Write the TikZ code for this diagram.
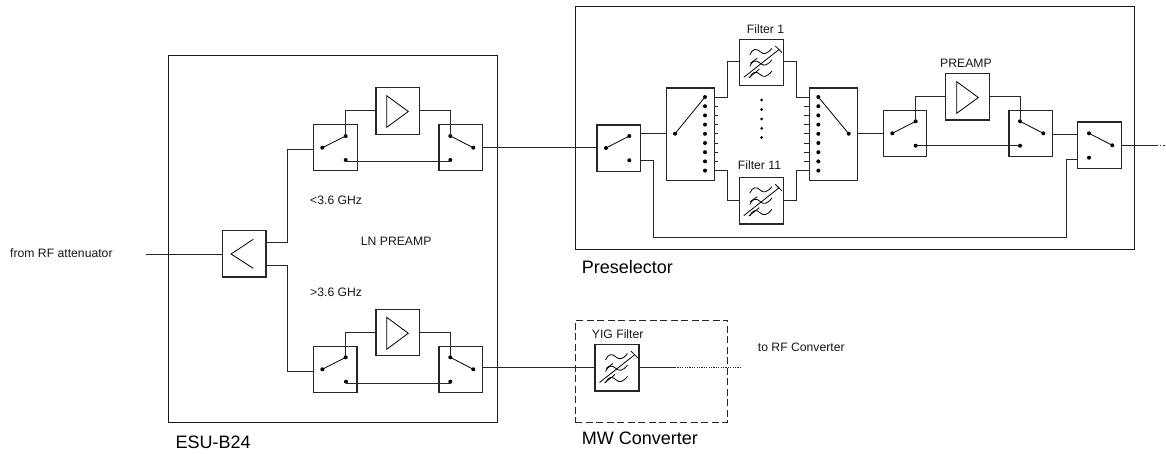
\documentclass[tikz,border=0pt]{standalone}
\usepackage{fontspec}
\setmainfont{Liberation Sans}
\usetikzlibrary{calc}
\tikzset{
  blockbox/.style={draw=black!85,line width=1.05pt,inner sep=0pt,outer sep=0pt},
  frame/.style={draw=black!90,line width=1pt},
  wire/.style={draw=black!85,line width=1pt},
  sym/.style={draw=black,line width=0.8pt},
  dotmark/.style={circle,fill=black,inner sep=0pt,minimum size=4pt,outer sep=0pt},
  small/.style={anchor=base west,inner sep=0pt,font=\fontsize{12.2}{14}\selectfont,text=black!90},
  big/.style={anchor=base west,inner sep=0pt,font=\fontsize{18}{20}\selectfont,text=black},
}
\newcommand{\blk}[5]{%
  \pgfmathsetmacro\cxx{(#2+#4)/2}\pgfmathsetmacro\cyy{(#3+#5)/2}%
  \pgfmathsetmacro\www{#4-#2}\pgfmathsetmacro\hhh{#5-#3}%
  \node[blockbox,minimum width=\www pt,minimum height=\hhh pt] (#1) at (\cxx,\cyy) {};}
% name, box x1 y1 x2 y2, pivot, contact 1, contact 2
\newcommand{\sw}[9]{%
  \blk{#1}{#2}{#3}{#4}{#5}%
  \node[dotmark] (#1-a) at (#6) {};
  \node[dotmark] (#1-b) at (#7) {};
  \node[dotmark] (#1-c) at (#8) {};
  \draw[sym] (#1-a.center) -- (#1-#9.center);}
\newcommand{\ampsym}[3]{% triangle from x,y (upper left corner)
  \draw[sym] (#1,#2) -- (#1+21.6,#2+#3/2) -- (#1,#2+#3) -- cycle;}
\newcommand{\filt}[2]{%
  \begin{scope}[shift={(#1,#2)}]
    \draw[sym] (4.5,38) -- (40,10);
    \draw[sym] (36,6.7) -- (42.7,13.3);
    \draw[sym] (9.5,38.5) -- (20,30);
    \draw[sym] (11,24) -- (18,19);
    \foreach \yy in {15.5,27,38.3}{
      \draw[sym] (10.5,\yy) .. controls (13,\yy-6) and (17,\yy-7) .. (21,\yy-3)
        .. controls (24,\yy) and (28,\yy-0.5) .. (32.5,\yy-6.5);
    }
  \end{scope}}
\begin{document}
\begin{tikzpicture}[x=1pt,y=-1pt]
\useasboundingbox[fill=white] (0,0) rectangle (1166,453);

% enclosures
\node[frame,inner sep=0pt,outer sep=0pt,minimum width=329.4pt,minimum height=367.7pt] (esu) at (333,238.85) {};
\node[frame,inner sep=0pt,outer sep=0pt,minimum width=558.6pt,minimum height=242.3pt] (presel) at (855,127.85) {};
\node[draw=black!85,line width=1pt,dash pattern=on 7pt off 3.5pt,inner sep=0pt,outer sep=0pt,minimum width=152.4pt,minimum height=102pt] (mw) at (651.5,371) {};

% LN preamp splitter
\blk{lna}{222.3}{230.7}{266}{277}
\draw[sym] (253.3,239.3) -- (231,254) -- (253.3,268.3);

% upper ESU branch
\sw{sa}{313.3}{124.3}{357.3}{170.7}{322.3,147.7}{345.7,136}{345.7,160}{b}
\blk{aa}{376}{87.7}{419.3}{134.3}
\ampsym{386.7}{95.7}{31.6}
\sw{sb}{439}{124.3}{482.3}{170.7}{473.3,147.7}{450.3,136}{450.3,160}{b}

% lower ESU branch
\sw{sc}{313.3}{346.3}{357}{392.3}{322.3,369.3}{345.7,357.3}{346,381.7}{b}
\blk{ab}{376}{309.3}{419.3}{355.7}
\ampsym{386.7}{317.3}{32}
\sw{sd}{439}{346.3}{482.3}{392.3}{473.3,369.3}{450.3,357.3}{450.3,381.7}{b}

% preselector
\sw{pa}{597}{125}{640.7}{171.3}{606,148}{629.3,136}{629.3,160.3}{b}
\blk{ma}{666.3}{88}{714.3}{180.3}
\blk{mb}{809.3}{88}{857.3}{180.3}
\node[dotmark] (mapiv) at (675,133.7) {};
\node[dotmark] (mbpiv) at (848.7,133.7) {};
\foreach \i in {0,...,8}{
  \pgfmathsetmacro\yy{97+\i*9.2}
  \node[dotmark] (mad\i) at (705,\yy) {};
  \node[dotmark] (mbd\i) at (818.3,\yy) {};
}
\foreach \i in {1,...,7}{
  \draw[wire] (ma.east |- mad\i) -- ++(4,0);
  \draw[wire] (mb.west |- mbd\i) -- ++(-5,0);
}
\draw[sym] (mapiv.center) -- (mad0.center);
\draw[sym] (mbpiv.center) -- (mbd0.center);
\blk{fa}{739.3}{39.3}{783.3}{85.3}
\filt{739.3}{39.3}
\blk{fb}{739.3}{177.3}{783.3}{224}
\filt{739.3}{177.6}
\foreach \i/\yy in {0/100,1/109.5,2/119,3/128.3,4/137.5}{
  \node[circle,fill=black,inner sep=0pt,minimum size=3pt] (gap\i) at (761.7,\yy) {};
}
\sw{pb}{883.3}{110.7}{926.3}{156.7}{892.3,133.3}{915.7,121.3}{915.7,145.7}{b}
\blk{ac}{945.7}{73.7}{989.3}{120}
\ampsym{956.7}{81.7}{31.6}
\sw{pc}{1009}{110.7}{1052.3}{156.7}{1043.3,133.3}{1020,121.3}{1020,145.7}{b}
\sw{pd}{1077.7}{122}{1121.3}{168.3}{1112.3,145.3}{1089,133.3}{1089,157.7}{b}

% YIG filter
\blk{yig}{595}{344.3}{639}{391}
\filt{595}{344.5}

% junction coordinates
\coordinate (inL) at (146,254);
\coordinate (ju) at (287.3,149.3);
\coordinate (jd) at (287.3,371.7);
\coordinate (lnaU) at (266,242.3);
\coordinate (lnaD) at (266,265.7);
\coordinate (ya) at (0,110.7);
\coordinate (yb) at (0,332.7);
\coordinate (yc) at (0,96.7);
\coordinate (l1) at (0,147);
\coordinate (l2) at (0,367);
\coordinate (wa) at (727.3,61.7);
\coordinate (wb) at (796.7,61.7);
\coordinate (wc) at (727.3,200.3);
\coordinate (wd) at (796.7,200.3);
\coordinate (tap1) at (0,133.3);
\coordinate (tap2) at (0,134);
\coordinate (by1) at (653.3,160.3);
\coordinate (by2) at (653.3,237.3);
\coordinate (by3) at (1066,237.3);
\coordinate (by4) at (1066,159.3);
\coordinate (outA) at (1156,145.3);
\coordinate (outB) at (1166,145.3);
\coordinate (yA) at (675,367);
\coordinate (yB) at (741,367);

% connectors
\draw[wire] (inL) -- (lna.west |- inL);
\draw[wire] (lnaU) -| (ju) -- (sa.west |- ju);
\draw[wire] (lnaD) -| (jd) -- (sc.west |- jd);
\draw[wire] (sa-b.center) |- (aa.west |- ya);
\draw[wire] (aa.east |- ya) -| (sb-b.center);
\draw[wire] (sa-c.center) -- ++(0,1) -- ($(sb-c.center)+(0,1)$) -- (sb-c.center);
\draw[wire] (sc-b.center) |- (ab.west |- yb);
\draw[wire] (ab.east |- yb) -| (sd-b.center);
\draw[wire] (sc-c.center) -- ++(0,1.5) -- ($(sd-c.center)+(0,1.5)$) -- (sd-c.center);
\draw[wire] (sb.east |- l1) -- (pa.west |- l1);
\draw[wire] (sd.east |- l2) -- (yig.west |- l2);
\draw[wire] (pa.east |- tap1) -- (ma.west |- tap1);
\draw[wire] (ma.east |- mad0) -| (wa) -- (fa.west |- wa);
\draw[wire] (fa.east |- wb) -- (wb) |- (mb.west |- mbd0);
\draw[wire] (ma.east |- mad8) -| (wc) -- (fb.west |- wc);
\draw[wire] (fb.east |- wd) -- (wd) |- (mb.west |- mbd8);
\draw[wire] (mb.east |- tap1) -- (pb.west |- tap1);
\draw[wire] (pb-b.center) |- (ac.west |- yc);
\draw[wire] (ac.east |- yc) -| (pc-b.center);
\draw[wire] (pb-c.center) -- (pc-c.center);
\draw[wire] (pc.east |- tap2) -- (pd.west |- tap2);
\draw[wire] (pa.east |- by1) -- (by1) -- (by2) -- (by3) -- (by4) -- (pd.west |- by4);
\draw[wire] (pd.east |- outA) -- (outA);
\draw[wire,dash pattern=on 1.5pt off 2pt] (outA) -- (outB);
\draw[wire] (yig.east |- yA) -- (yA);
\draw[wire,dash pattern=on 1.2pt off 1.2pt] (yA) -- (yB);

% labels
\node[small] (t1) at (10,257.3) {from RF attenuator};
\node[small] (t2) at (310,204.3) {<3.6 GHz};
\node[small] (t3) at (360.7,245.7) {LN PREAMP};
\node[small] (t4) at (310,296) {>3.6 GHz};
\node[big] (t5) at (175.5,448.3) {ESU-B24};
\node[big] (t6) at (581.7,273) {Preselector};
\node[big] (t7) at (581.7,444) {MW Converter};
\node[small] (t8) at (591.7,338.3) {YIG Filter};
\node[small] (t9) at (757.7,351) {to RF Converter};
\node[small] (t10) at (746.7,33.3) {Filter 1};
\node[small] (t11) at (737.7,169.3) {Filter 11};
\node[small] (t12) at (940,67) {PREAMP};
\end{tikzpicture}
\end{document}
